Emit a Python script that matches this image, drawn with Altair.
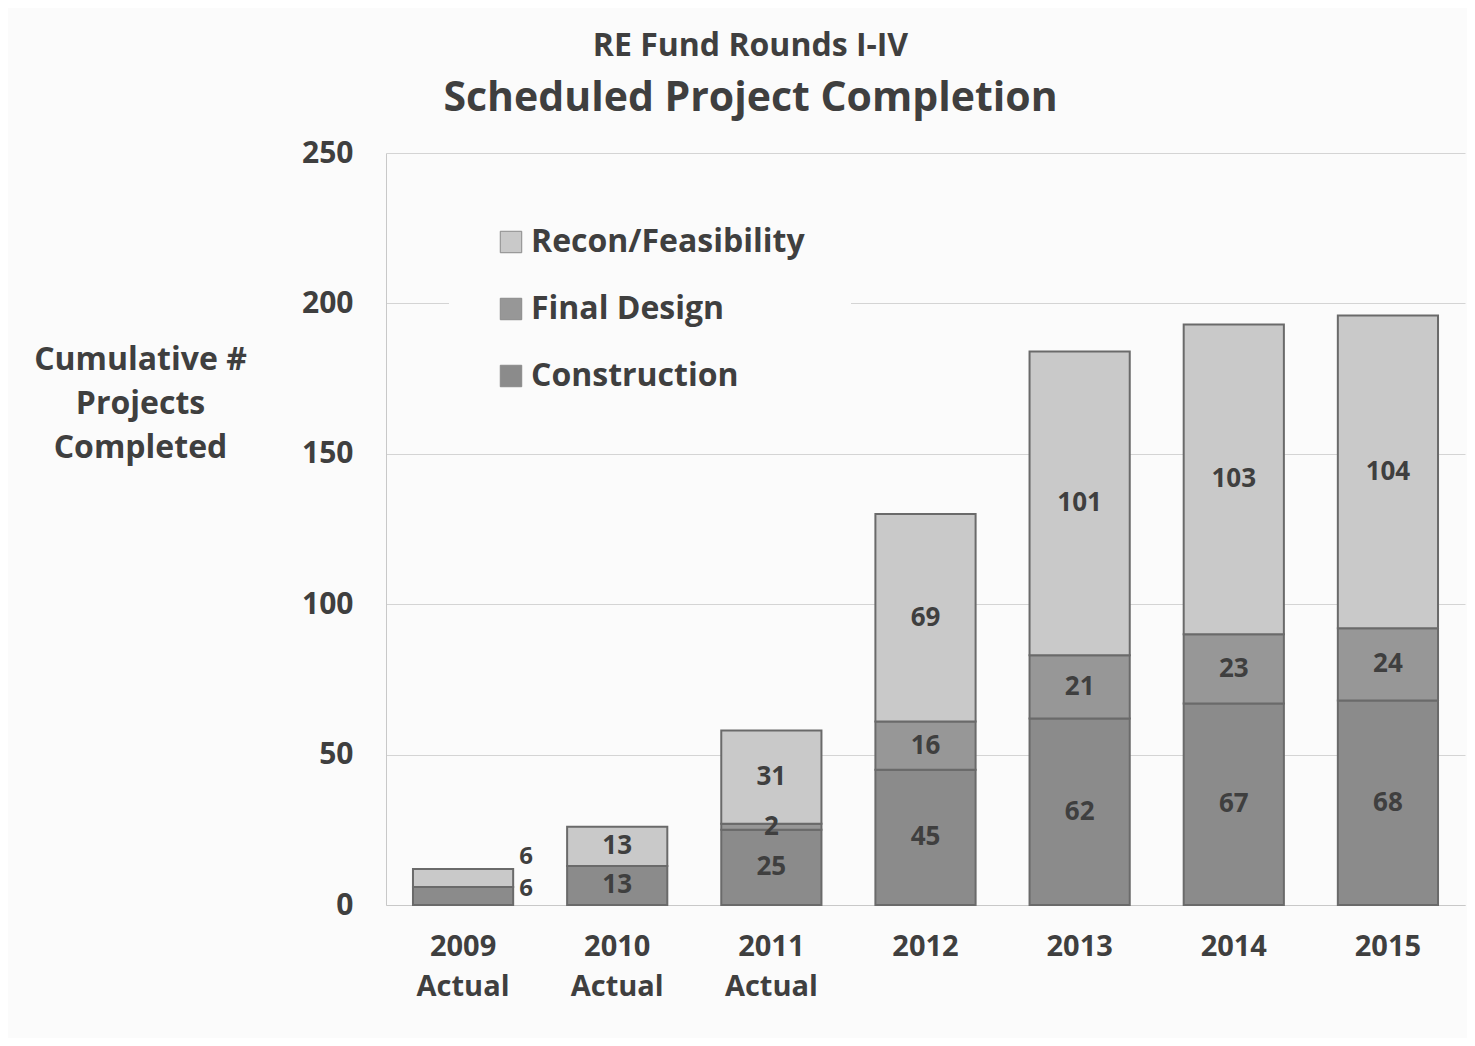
import altair as alt
import pandas as pd

years = ["2009 Actual", "2010 Actual", "2011 Actual", "2012", "2013", "2014", "2015"]
construction = [6, 13, 25, 45, 62, 67, 68]
final_design = [0, 0, 2, 16, 21, 23, 24]
recon = [6, 13, 31, 69, 101, 103, 104]
series = ["Recon/Feasibility", "Final Design", "Construction"]
colors = ["#c9c9c9", "#979797", "#8b8b8b"]

rows = []
for i, yr in enumerate(years):
    for s, vals, order in [("Construction", construction, 0),
                           ("Final Design", final_design, 1),
                           ("Recon/Feasibility", recon, 2)]:
        rows.append(dict(year=yr, series=s, value=vals[i], order=order))
df = pd.DataFrame(rows)

FONT = "Open Sans"
TXT = "#3f3f3f"

x_enc = alt.X("year:N", sort=years, title=None,
              scale=alt.Scale(paddingInner=0.35, paddingOuter=0.175),
              axis=alt.Axis(labelExpr="split(datum.label, ' ')", labelAngle=0,
                            labelFontSize=29, labelFontWeight="bold", labelColor=TXT,
                            labelLineHeight=40, labelPadding=27, ticks=False,
                            domainColor="#c8c8c8", labelFont=FONT))

bars = alt.Chart(df).mark_bar(stroke="#6a6a6a", strokeWidth=2).encode(
    x=x_enc,
    y=alt.Y("value:Q", stack="zero",
            scale=alt.Scale(domain=[0, 250], nice=False),
            axis=alt.Axis(values=[0, 50, 100, 150, 200, 250], ticks=False,
                          labelFontSize=30, labelFontWeight="bold", labelColor=TXT,
                          labelPadding=33, labelFont=FONT,
                          domainColor="#c8c8c8", gridColor="#d4d4d4",
                          title=["Cumulative #", "Projects", "Completed"],
                          titleAngle=0, titleAlign="center", titleX=-246, titleY=191,
                          titleBaseline="top", titleFontSize=32, titleFontWeight="bold",
                          titleLineHeight=44, titleColor=TXT, titleFont=FONT)),
    color=alt.Color("series:N", scale=alt.Scale(domain=series, range=colors),
                    legend=alt.Legend(title=None, orient="none", legendX=63, legendY=27,
                                      symbolType="square", symbolSize=460,
                                      symbolStrokeColor="#8a8a8a", symbolStrokeWidth=1,
                                      labelFontSize=32, labelFontWeight="bold",
                                      labelColor=TXT, labelFont=FONT, rowPadding=35,
                                      labelLimit=0, labelOffset=4,
                                      fillColor="#fbfbfb", padding=46)),
    order=alt.Order("order:Q", sort="ascending"),
)

stacked = alt.Chart(df).transform_stack(
    stack="value", as_=["v0", "v1"], groupby=["year"],
    sort=[alt.SortField("order", order="ascending")]
).transform_calculate(mid="(datum.v0 + datum.v1) / 2")

inner = stacked.transform_filter(
    "datum.value > 0 && datum.year != '2009 Actual'"
).mark_text(fontSize=26, fontWeight="bold", color=TXT, font=FONT).encode(
    x=alt.X("year:N", sort=years), y=alt.Y("mid:Q"), text="value:Q")

out_c = stacked.transform_filter(
    "datum.year == '2009 Actual' && datum.series == 'Construction'"
).mark_text(fontSize=24, fontWeight="bold", color=TXT, font=FONT, dx=63, dy=-7).encode(
    x=alt.X("year:N", sort=years), y=alt.Y("mid:Q"), text="value:Q")

out_r = stacked.transform_filter(
    "datum.year == '2009 Actual' && datum.series == 'Recon/Feasibility'"
).mark_text(fontSize=24, fontWeight="bold", color=TXT, font=FONT, dx=63, dy=-21).encode(
    x=alt.X("year:N", sort=years), y=alt.Y("mid:Q"), text="value:Q")

chart = alt.layer(bars, inner, out_c, out_r).properties(
    width=1079, height=752,
    autosize=alt.AutoSizeParams(type="none"),
    padding={"left": 378, "top": 145, "right": 2, "bottom": 133},
    background="#fbfbfb",
    title=alt.TitleParams(
        text="RE Fund Rounds I-IV", subtitle="Scheduled Project Completion",
        anchor="middle", frame="group", dx=-175, offset=18,
        fontSize=32, font=FONT, fontWeight="bold", color=TXT,
        subtitleFontSize=41, subtitleFont=FONT, subtitleFontWeight="bold",
        subtitleColor=TXT, subtitlePadding=16),
).configure_view(stroke=None)

chart.save("out.html", embed_options={"renderer": "svg", "actions": False})
